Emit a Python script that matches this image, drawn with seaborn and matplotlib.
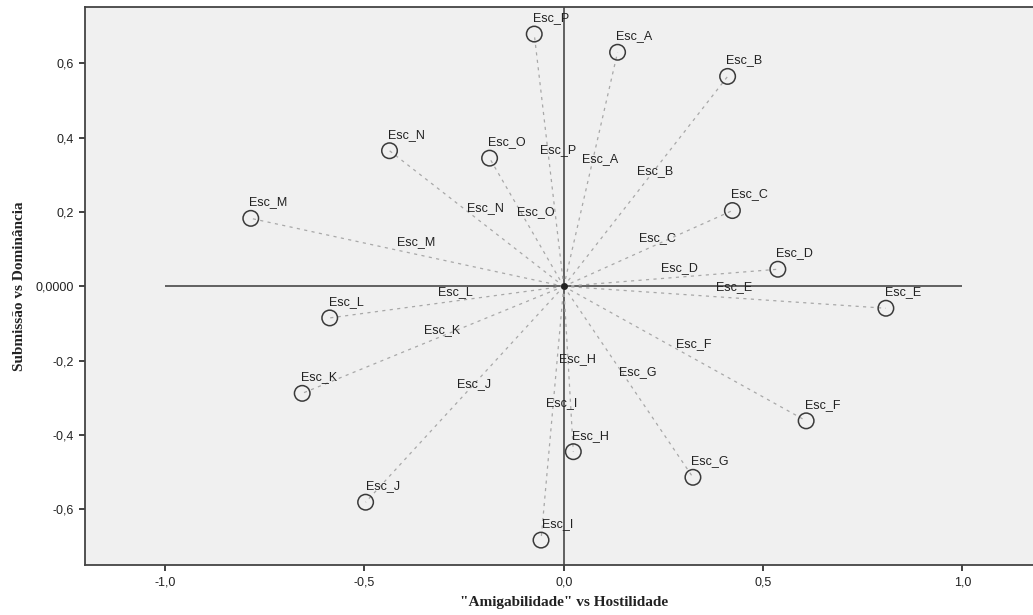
import numpy as np
import pandas as pd
import matplotlib
matplotlib.use('Agg')
import matplotlib.pyplot as plt
import seaborn as sns

# Data
labels = ['Esc_A', 'Esc_B', 'Esc_C', 'Esc_D', 'Esc_E', 'Esc_F', 'Esc_G', 'Esc_H',
          'Esc_I', 'Esc_J', 'Esc_K', 'Esc_L', 'Esc_M', 'Esc_N', 'Esc_O', 'Esc_P']
amigabilidade = [0.135, 0.411, 0.423, 0.537, 0.808, 0.608, 0.324, 0.024,
                 -0.057, -0.497, -0.656, -0.587, -0.785, -0.437, -0.186, -0.074]
dominancia = [0.630, 0.565, 0.204, 0.046, -0.059, -0.362, -0.514, -0.445,
              -0.683, -0.581, -0.288, -0.085, 0.183, 0.365, 0.345, 0.679]

xticks = [-1.0, -0.5, 0.0, 0.5, 1.0]
xtick_labels = ['-1,0', '-0,5', '0,0', '0,5', '1,0']
yticks = [-0.6, -0.4, -0.2, 0.0, 0.2, 0.4, 0.6]
ytick_labels = ['-0,6', '-0,4', '-0,2', '0,0000', '0,2', '0,4', '0,6']

pts = pd.DataFrame({'label': labels, 'x': amigabilidade, 'y': dominancia})

# long table: origin -> point for each scenario
segs = pd.concat([
    pd.DataFrame({'label': labels, 'x': 0.0, 'y': 0.0, 'ord': 0}),
    pts.assign(ord=1),
]).sort_values(['label', 'ord'])

sns.set_style('white')
plt.rcParams['font.family'] = ['Liberation Sans', 'DejaVu Sans']

fig = plt.figure(figsize=(10.33, 6.15), dpi=100)
ax = fig.add_axes([0.0826, 0.0813, 0.9174, 0.9068])
ax.set_facecolor('#f0f0f0')

# reference axes
ax.axvline(0, color='#555555', lw=1.3, zorder=1)
ax.hlines(0, -1.0, 1.0, color='#555555', lw=1.3, zorder=1)

sns.lineplot(data=segs, x='x', y='y', units='label', estimator=None, sort=False,
             color='#a8a8a8', lw=0.9, dashes=False, ax=ax, zorder=2)
for ln in ax.get_lines()[-len(labels):]:
    ln.set_dashes([2.5, 3.5])

sns.scatterplot(data=pts, x='x', y='y', s=125, marker='o', facecolor='none',
                edgecolor='#3a3a3a', linewidth=1.1, ax=ax, zorder=3)
ax.plot(0, 0, 'o', ms=4, color='#222222', zorder=4)

for lab, x, y in zip(labels, amigabilidade, dominancia):
    ax.annotate(lab, (x, y), xytext=(17, 16), textcoords='offset pixels',
                ha='center', va='center', fontsize=9, color='#222222')
    ax.annotate(lab, (x / 2, y / 2), xytext=(9, 10), textcoords='offset pixels',
                ha='center', va='center', fontsize=9, color='#222222')

ax.set_xlim(-1.2, 1.177)
ax.set_ylim(-0.75, 0.751)
ax.set_xticks(xticks)
ax.set_xticklabels(xtick_labels)
ax.set_yticks(yticks)
ax.set_yticklabels(ytick_labels)
ax.tick_params(axis='both', direction='out', length=4, width=1.3, color='#333333',
               labelsize=9, labelcolor='#222222', pad=4, left=True, bottom=True)
for side in ['left', 'bottom', 'top']:
    ax.spines[side].set_color('#444444')
    ax.spines[side].set_linewidth(1.3)
ax.spines['right'].set_visible(False)

ax.set_xlabel('"Amigabilidade" vs Hostilidade', family=['Liberation Serif'],
              fontweight='bold', fontsize=11, color='#222222')
ax.set_ylabel('Submissão vs Dominância', family=['Liberation Serif'],
              fontweight='bold', fontsize=11, color='#222222')
ax.xaxis.set_label_coords(0.505, -0.056)
ax.yaxis.set_label_coords(-0.063, 0.5)

plt.savefig('out.png', dpi=100)
